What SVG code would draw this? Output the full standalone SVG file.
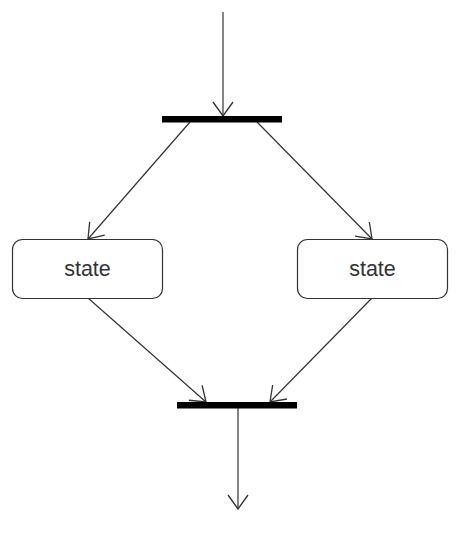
<svg xmlns="http://www.w3.org/2000/svg" width="466" height="534" viewBox="0 0 466 534">
<style>
.edge{stroke:#333;stroke-width:1.2;fill:none;marker-end:url(#arr)}
.bar{fill:#000}
.state{fill:#fff;stroke:#333;stroke-width:1.2}
.lbl{font-family:"Liberation Sans",Arial,sans-serif;font-size:21.5px;fill:#333;text-anchor:middle}
</style>
<defs>
<marker id="arr" viewBox="0 0 16 22" refX="15" refY="11" markerWidth="16" markerHeight="22" markerUnits="userSpaceOnUse" orient="auto">
<path d="M1,1 L15,11 L1,21" fill="none" stroke="#333" stroke-width="1.3"/>
</marker>
</defs>
<rect width="466" height="534" fill="#fff"/>
<g id="connectors">
<line class="edge" x1="223" y1="12" x2="223" y2="116"/>
<line class="edge" x1="190" y1="122" x2="88" y2="239"/>
<line class="edge" x1="257" y1="122" x2="372" y2="239"/>
<line class="edge" x1="88" y1="298" x2="206" y2="402"/>
<line class="edge" x1="372" y1="298" x2="270" y2="402"/>
<line class="edge" x1="238" y1="408" x2="238" y2="509"/>
</g>
<g id="fork"><rect class="bar" x="162" y="116" width="120" height="6.5"/></g>
<g id="join"><rect class="bar" x="177" y="402" width="120" height="6.5"/></g>
<g id="state1">
<rect class="state" x="12.5" y="239.5" width="150" height="59" rx="10"/>
<text class="lbl" x="87.5" y="275.5">state</text>
</g>
<g id="state2">
<rect class="state" x="297.5" y="239.5" width="150" height="59" rx="10"/>
<text class="lbl" x="372.5" y="275.5">state</text>
</g>
</svg>
